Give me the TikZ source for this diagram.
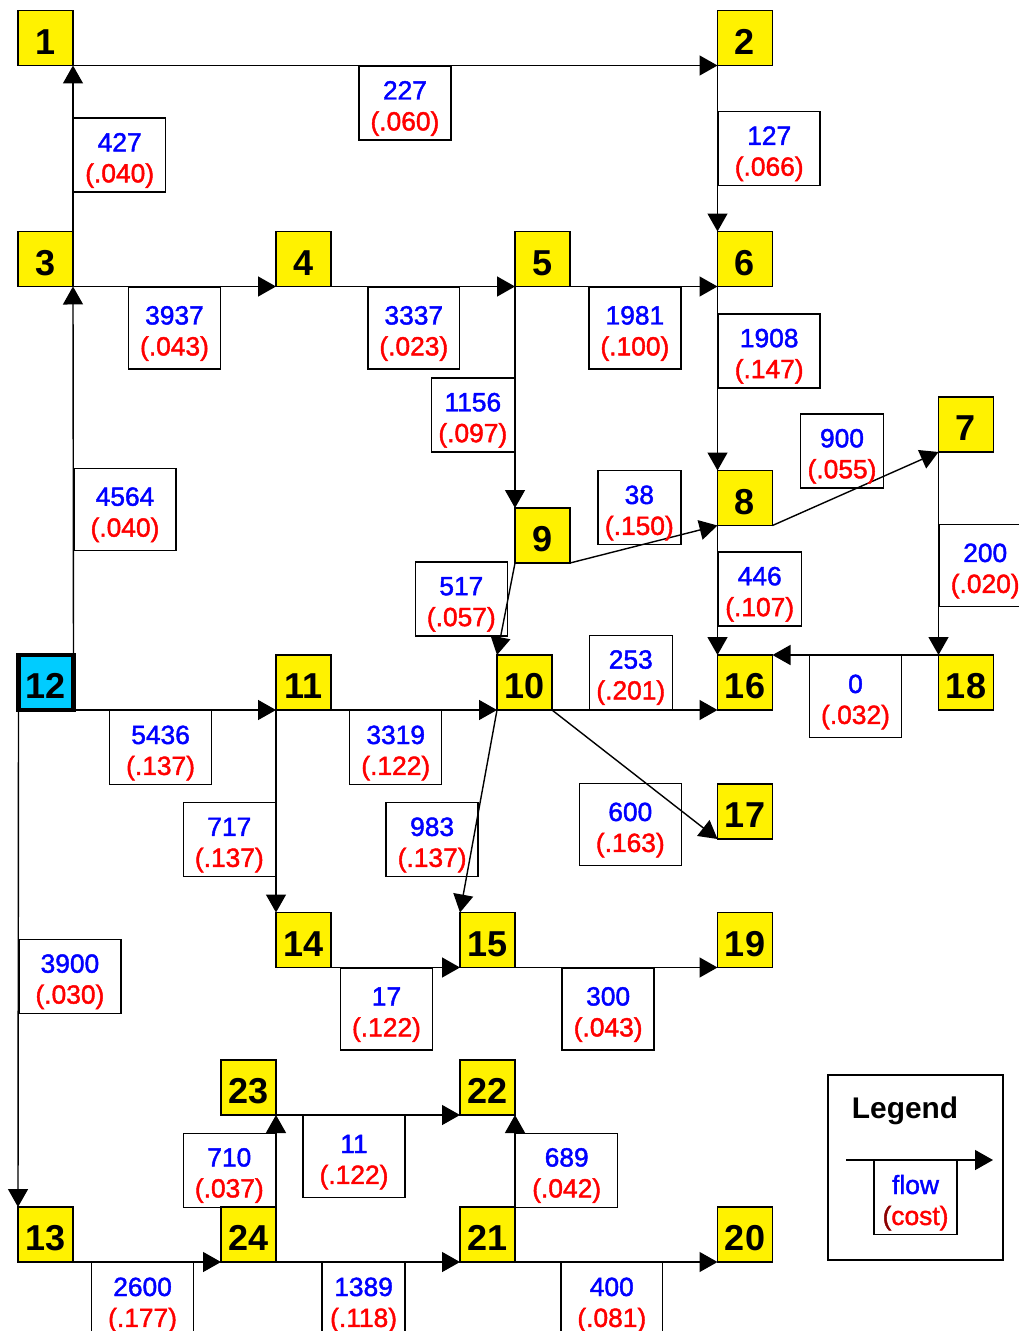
\documentclass[tikz,border=0pt]{standalone}
\usepackage{fontspec}
\setmainfont{Liberation Sans}
\newfontfamily\labelfont[FakeBold=1.6]{Liberation Sans}
\usepackage{tikz}
\usetikzlibrary{arrows.meta}
\definecolor{flowblue}{RGB}{0,0,255}
\definecolor{costred}{RGB}{255,0,0}
\definecolor{parenred}{RGB}{140,0,0}
\definecolor{sourcecyan}{RGB}{0,204,255}
\tikzset{basic/.style={draw,line width=0.8pt,minimum size=1.1cm,inner sep=0pt,outer sep=0pt,text height=18.5pt,font=\fontsize{20.5}{24}\selectfont\bfseries}}
\tikzset{city/.style={basic,fill=yellow}}
\tikzset{source/.style={basic,fill=sourcecyan,line width=2.4pt}}
\tikzset{flow/.style={draw,line width=0.8pt,align=center,minimum width=1.84cm,minimum height=1.48cm,inner sep=0pt,font=\labelfont\fontsize{15}{17.6}\selectfont}}
\tikzset{narrow/.style={flow,minimum width=1.66cm}}
\tikzset{wide/.style={flow,minimum width=2.04cm}}
\tikzset{tall/.style={minimum height=1.64cm}}
\tikzset{link/.style={draw,line width=0.8pt,-{Triangle[length=0.36cm,width=0.4cm]}}}
% the rule pushes both lines a little below the middle of the box
\newcommand{\flowcost}[2]{\rule{0pt}{16.5pt}\textcolor{flowblue}{#1}\\\textcolor{costred}{(#2)}}

\begin{document}
\begin{tikzpicture}[x=0.02cm,y=-0.02cm]
        \useasboundingbox (0,0) rectangle (1018,1331);
        % cities
        \node[city] (1) at (45.5,38) {1};
        \node[city] (2) at (745,38) {2};
        \node[city] (3) at (45.5,259) {3};
        \node[city] (4) at (303.5,259) {4};
        \node[city] (5) at (542.5,259) {5};
        \node[city] (6) at (745,259) {6};
        \node[city] (7) at (966,424.5) {7};
        \node[city] (8) at (745,498) {8};
        \node[city] (9) at (542.5,535.5) {9};
        \node[city] (10) at (524.5,682.5) {10};
        \node[city] (11) at (303.5,682.5) {11};
        \node[source] (12) at (46,682.5) {12};
        \node[city] (16) at (745,682.5) {16};
        \node[city] (18) at (966,682.5) {18};
        \node[city] (17) at (745,811.5) {17};
        \node[city] (14) at (303.5,940) {14};
        \node[city] (15) at (487.5,940) {15};
        \node[city] (19) at (745,940) {19};
        \node[city] (23) at (248.5,1087.5) {23};
        \node[city] (22) at (487.5,1087.5) {22};
        \node[city] (13) at (45.5,1234.5) {13};
        \node[city] (24) at (248.5,1234.5) {24};
        \node[city] (21) at (487.5,1234.5) {21};
        \node[city] (20) at (745,1234.5) {20};
        % flows with their costs
        \path[link] (3.north east) -- node[flow,pos=0.46,anchor=west] {\flowcost{427}{.040}} (1.south east);
        \path[link] (1.south east) -- node[flow,pos=0.515,anchor=north] {\flowcost{227}{.060}} (2.south west);
        \path[link] (2.south west) -- node[wide,pos=0.5,anchor=west] {\flowcost{127}{.066}} (6.north west);
        \path[link] (3.south east) -- node[flow,tall,pos=0.5,anchor=north] {\flowcost{3937}{.043}} (4.south west);
        \path[link] (4.south east) -- node[flow,tall,pos=0.45,anchor=north] {\flowcost{3337}{.023}} (5.south west);
        \path[link] (5.south east) -- node[flow,tall,pos=0.44,anchor=north] {\flowcost{1981}{.100}} (6.south west);
        \path[link] (5.south west) -- node[narrow,pos=0.58,anchor=east] {\flowcost{1156}{.097}} (9.north west);
        \path[link] (6.south west) -- node[wide,pos=0.35,anchor=west] {\flowcost{1908}{.147}} (8.north west);
        \path[link] (12.north east) -- node[wide,tall,pos=0.395,anchor=west] {\flowcost{4564}{.040}} (3.south east);
        \path[link] (8.south east) -- node[narrow,pos=0.5,anchor=south,xshift=-0.27cm] {\flowcost{900}{.055}} (7.south west);
        \path[link] (9.south east) -- node[narrow,pos=0.47,anchor=south] {\flowcost{38}{.150}} (8.south west);
        \path[link] (7.south west) -- node[flow,tall,pos=0.56,anchor=west] {\flowcost{200}{.020}} (18.north west);
        \path[link] (8.south west) -- node[narrow,pos=0.49,anchor=west] {\flowcost{446}{.107}} (16.north west);
        \path[link] (18.north west) -- node[flow,tall,pos=0.5,anchor=north] {\flowcost{0}{.032}} (16.north east);
        \path[link] (9.south west) -- node[flow,pos=0.39,anchor=east] {\flowcost{517}{.057}} (10.north west);
        \path[link] (10.south east) -- node[narrow,pos=0.476,anchor=south] {\flowcost{253}{.201}} (16.south west);
        \path[link] (10.south east) -- node[wide,tall,pos=0.473,anchor=north,yshift=-0.24cm] {\flowcost{600}{.163}} (17.south west);
        \path[link] (12.south east) -- node[wide,pos=0.43,anchor=north] {\flowcost{5436}{.137}} (11.south west);
        \path[link] (11.south east) -- node[flow,pos=0.39,anchor=north] {\flowcost{3319}{.122}} (10.south west);
        \path[link] (11.south west) -- node[flow,pos=0.64,anchor=east] {\flowcost{717}{.137}} (14.north west);
        \path[link] (10.south west) -- node[flow,pos=0.64,anchor=east,xshift=0.11cm] {\flowcost{983}{.137}} (15.north west);
        \path[link] (12.south west) -- node[wide,pos=0.536,anchor=west] {\flowcost{3900}{.030}} (13.north west);
        \path[link] (14.south east) -- node[flow,tall,pos=0.43,anchor=north] {\flowcost{17}{.122}} (15.south west);
        \path[link] (15.south east) -- node[flow,tall,pos=0.46,anchor=north] {\flowcost{300}{.043}} (19.south west);
        \path[link] (13.south east) -- node[wide,pos=0.47,anchor=north] {\flowcost{2600}{.177}} (24.south west);
        \path[link] (24.north east) -- node[flow,pos=0.4,anchor=east] {\flowcost{710}{.037}} (23.south east);
        \path[link] (23.south east) -- node[wide,tall,pos=0.424,anchor=north] {\flowcost{11}{.122}} (22.south west);
        \path[link] (21.north east) -- node[wide,pos=0.4,anchor=west] {\flowcost{689}{.042}} (22.south east);
        \path[link] (24.south east) -- node[narrow,pos=0.476,anchor=north] {\flowcost{1389}{.118}} (21.south west);
        \path[link] (21.south east) -- node[wide,pos=0.478,anchor=north] {\flowcost{400}{.081}} (20.south west);
        % legend
        \node[draw,line width=0.8pt,minimum width=3.5cm,minimum height=3.7cm] (legend) at (915.5,1167.5) {};
        \node[font=\fontsize{17}{20}\selectfont\bfseries] (legendtitle) at (905,1111) {Legend};
        \coordinate (legin) at (846,1160);
        \coordinate (legout) at (993,1160);
        \path[link] (legin) -- node[narrow,pos=0.473,anchor=north]
            {\rule{0pt}{16.5pt}\textcolor{flowblue}{flow}\\\textcolor{parenred}{(}\textcolor{costred}{cost)}} (legout);
\end{tikzpicture}
\end{document}
